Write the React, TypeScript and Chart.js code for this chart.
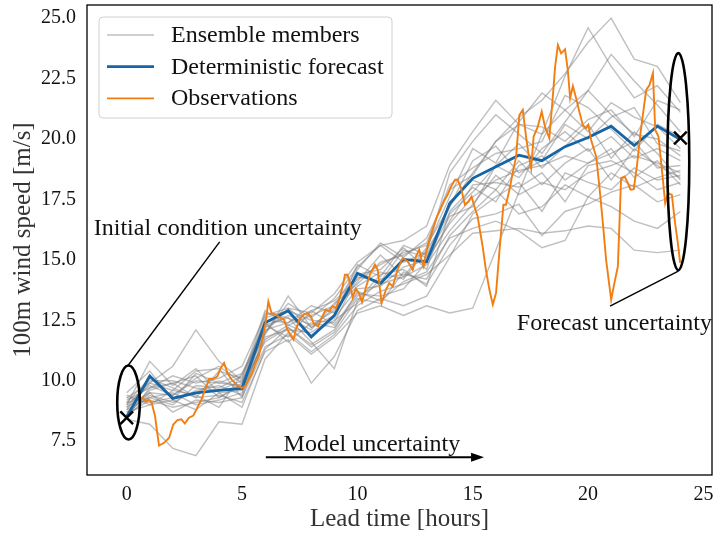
import React, { useEffect, useRef } from "react";
import { Chart, registerables } from "chart.js";

Chart.register(...registerables);

// ---------------- data ----------------
const hours = [0, 1, 2, 3, 4, 5, 6, 7, 8, 9, 10, 11, 12, 13, 14, 15, 16, 17, 18, 19, 20, 21, 22, 23, 24];

const deterministic = [8.5, 10.19, 9.27, 9.5, 9.6, 9.68, 12.4, 12.89, 11.81, 12.7, 14.44, 14.02, 15.02, 14.92, 17.33, 18.37, 18.85, 19.33, 19.1, 19.68, 20.06, 20.53, 19.73, 20.53, 19.98];

const ens01 = [8.9, 9.5, 9.4, 10.0, 9.9, 10.3, 12.1, 12.4, 12.9, 13.3, 14.2, 14.8, 15.3, 15.6, 17.2, 18.6, 19.9, 20.9, 21.6, 22.7, 24.0, 25.0, 23.3, 23.0, 21.5];
const ens02 = [9.1, 10.1, 9.7, 9.3, 10.4, 10.1, 12.9, 12.3, 12.7, 13.1, 14.6, 15.7, 15.1, 15.9, 17.9, 18.5, 19.9, 20.6, 20.2, 21.2, 22.0, 23.5, 22.4, 21.4, 20.3];
const ens03 = [8.6, 9.2, 8.9, 9.1, 9.3, 9.9, 11.6, 12.2, 11.5, 12.1, 13.7, 13.3, 14.1, 14.5, 15.9, 16.3, 16.6, 16.2, 15.5, 15.8, 17.6, 17.2, 16.6, 16.3, 17.0];
const ens04 = [9.3, 9.9, 10.6, 12.1, 10.8, 10.0, 11.9, 13.5, 12.2, 13.0, 13.9, 14.5, 14.2, 15.4, 16.9, 17.8, 18.9, 18.4, 19.6, 20.3, 19.5, 20.1, 19.2, 19.6, 19.1];
const ens05 = [8.4, 8.2, 7.2, 6.9, 8.3, 8.2, 10.9, 12.0, 11.2, 11.9, 13.1, 13.7, 14.0, 14.4, 15.2, 16.1, 16.2, 16.3, 16.1, 16.2, 16.4, 16.3, 15.4, 15.3, 15.4];
const ens06 = [8.7, 9.6, 9.9, 9.3, 9.4, 9.1, 11.2, 11.7, 9.9, 11.0, 12.9, 13.4, 13.1, 13.5, 15.1, 16.9, 17.6, 18.2, 17.0, 18.6, 18.2, 17.9, 18.8, 18.3, 18.5];
const ens07 = [9.0, 10.8, 9.8, 10.5, 9.5, 9.6, 12.6, 12.9, 12.5, 12.4, 14.3, 14.1, 15.4, 15.1, 16.8, 17.2, 18.9, 19.8, 18.8, 19.7, 20.6, 19.2, 20.3, 19.4, 18.3];
const ens08 = [8.5, 9.4, 9.1, 9.6, 9.8, 9.4, 12.3, 12.6, 11.6, 10.5, 13.3, 14.4, 14.6, 13.9, 17.0, 18.0, 17.4, 18.9, 19.3, 18.3, 19.0, 19.6, 18.4, 19.1, 18.1];
const ens09 = [9.2, 9.7, 10.2, 9.9, 10.1, 10.6, 12.7, 13.0, 12.8, 13.6, 14.9, 15.6, 15.8, 16.4, 18.9, 20.3, 21.6, 20.6, 20.5, 19.9, 20.8, 21.2, 20.1, 21.6, 21.2];
const ens10 = [8.8, 9.3, 9.5, 9.0, 9.2, 9.5, 11.8, 12.1, 12.0, 12.6, 13.8, 13.9, 14.7, 15.0, 16.5, 17.6, 18.3, 18.7, 18.9, 19.3, 19.0, 19.4, 19.9, 18.8, 18.9];
const ens11 = [9.5, 10.4, 9.2, 10.3, 9.9, 9.8, 12.2, 12.7, 12.3, 12.9, 14.1, 15.2, 14.3, 15.5, 17.6, 19.6, 19.0, 20.7, 21.9, 21.2, 20.3, 21.5, 20.9, 20.5, 19.6];
const ens12 = [8.7, 9.0, 9.6, 9.4, 8.9, 10.3, 12.4, 11.6, 12.4, 12.2, 13.5, 14.0, 14.3, 14.8, 16.2, 17.3, 18.5, 17.7, 18.2, 17.9, 18.6, 18.9, 19.3, 19.0, 18.6];
const ens13 = [9.0, 9.8, 9.4, 10.1, 10.6, 9.9, 12.0, 13.2, 12.6, 13.4, 14.7, 15.6, 14.9, 15.3, 18.6, 19.9, 21.0, 20.2, 19.4, 20.7, 22.0, 21.0, 20.2, 20.0, 19.3];
const ens14 = [8.6, 9.5, 8.7, 9.2, 9.1, 9.3, 11.4, 11.9, 11.1, 11.8, 12.8, 13.1, 12.7, 13.1, 12.8, 13.0, 15.4, 17.8, 20.2, 22.6, 24.6, 23.0, 21.7, 22.2, 21.1];
const ens15 = [8.9, 10.0, 10.0, 9.7, 9.6, 10.0, 12.5, 12.4, 13.1, 12.8, 14.4, 14.6, 15.5, 14.6, 17.4, 18.3, 17.9, 19.1, 18.1, 19.0, 19.6, 18.3, 19.6, 18.9, 18.4];
const ens16 = [9.3, 9.1, 9.3, 9.5, 10.0, 9.7, 11.7, 12.3, 11.9, 12.5, 13.2, 14.2, 14.4, 14.2, 16.0, 17.0, 17.9, 16.9, 17.2, 18.1, 17.6, 18.6, 18.0, 18.4, 18.7];
const ens17 = [8.5, 9.7, 9.9, 10.2, 9.3, 9.8, 12.8, 12.6, 12.1, 13.2, 14.0, 14.9, 15.2, 15.7, 18.1, 18.8, 19.4, 19.6, 19.9, 21.8, 21.3, 20.4, 19.5, 20.6, 20.1];
const ens18 = [9.1, 9.3, 9.0, 9.8, 9.7, 10.2, 12.3, 11.8, 12.9, 12.3, 13.6, 13.5, 13.8, 14.9, 16.6, 18.1, 18.2, 18.0, 18.6, 17.4, 18.9, 19.1, 18.6, 17.9, 18.2];
const ens19 = [8.8, 9.9, 9.6, 10.4, 10.5, 9.3, 12.0, 13.0, 12.2, 12.7, 14.8, 14.3, 15.6, 15.2, 17.2, 19.1, 19.7, 18.6, 19.1, 20.6, 20.0, 20.9, 21.3, 19.8, 19.5];
const ens20 = [9.4, 9.0, 9.2, 8.8, 9.5, 8.9, 11.3, 12.2, 11.4, 12.0, 13.4, 13.2, 14.5, 14.0, 15.6, 16.7, 16.9, 17.3, 16.0, 17.0, 17.3, 17.8, 18.1, 17.4, 17.7];

const ensembleMembers = [ens01, ens02, ens03, ens04, ens05, ens06, ens07, ens08, ens09, ens10, ens11, ens12, ens13, ens14, ens15, ens16, ens17, ens18, ens19, ens20];

const obsTimes = [0.67, 0.82, 0.95, 1.08, 1.23, 1.40, 1.62, 1.84, 2.02, 2.20, 2.37, 2.52, 2.70, 2.89, 3.09, 3.24, 3.43, 3.57, 3.76, 3.93, 4.08, 4.22, 4.37, 4.54, 4.69, 4.85, 5.0, 5.15, 5.29, 5.44, 5.58, 5.73, 5.88, 6.02, 6.14, 6.28, 6.46, 6.62, 6.82, 6.97, 7.09, 7.23, 7.33, 7.48, 7.67, 7.84, 7.98, 8.13, 8.30, 8.45, 8.63, 8.78, 8.92, 9.07, 9.21, 9.36, 9.46, 9.57, 9.69, 9.79, 9.93, 10.08, 10.2, 10.37, 10.55, 10.76, 10.88, 11.05, 11.24, 11.38, 11.53, 11.74, 11.96, 12.18, 12.40, 12.54, 12.68, 12.78, 12.87, 12.97, 13.12, 13.26, 13.45, 13.59, 13.74, 13.91, 14.06, 14.23, 14.35, 14.49, 14.66, 14.81, 14.95, 15.07, 15.21, 15.33, 15.43, 15.57, 15.72, 15.87, 16.01, 16.15, 16.33, 16.44, 16.59, 16.73, 16.88, 17.02, 17.17, 17.31, 17.41, 17.53, 17.64, 17.82, 17.99, 18.13, 18.32, 18.47, 18.57, 18.69, 18.83, 19.00, 19.12, 19.22, 19.34, 19.48, 19.62, 19.77, 19.91, 20.01, 20.13, 20.35, 20.49, 20.64, 20.78, 21.00, 21.14, 21.29, 21.43, 21.58, 21.69, 21.84, 21.98, 22.13, 22.27, 22.42, 22.52, 22.66, 22.81, 22.91, 23.05, 23.20, 23.34, 23.46, 23.63, 23.77, 23.89, 23.99];
const obsValues = [9.33, 9.15, 9.22, 9.10, 8.53, 7.32, 7.43, 7.64, 8.19, 8.37, 8.40, 8.23, 8.47, 8.56, 8.94, 9.22, 9.70, 10.08, 10.08, 10.18, 10.53, 10.74, 10.32, 10.05, 9.91, 9.75, 9.70, 9.80, 10.05, 10.32, 10.70, 11.01, 11.70, 12.39, 13.28, 12.80, 12.73, 12.62, 12.53, 12.11, 11.91, 11.70, 12.11, 12.53, 12.73, 12.80, 12.66, 12.32, 12.25, 12.60, 12.94, 12.87, 13.08, 13.00, 13.35, 13.90, 14.38, 14.38, 14.00, 13.45, 13.80, 13.60, 13.25, 13.87, 14.40, 14.80, 14.59, 13.21, 13.77, 14.04, 13.90, 14.59, 15.07, 14.93, 14.59, 15.14, 15.42, 15.00, 14.73, 15.28, 15.83, 16.24, 16.79, 17.07, 17.41, 17.69, 18.03, 18.31, 18.31, 17.97, 17.28, 17.41, 17.62, 17.21, 16.79, 16.11, 15.55, 14.59, 13.77, 13.15, 13.63, 15.28, 17.28, 17.28, 17.90, 18.59, 19.27, 20.99, 21.20, 20.10, 19.41, 18.79, 20.10, 20.51, 21.13, 20.51, 20.03, 21.75, 22.99, 23.88, 23.54, 23.71, 22.85, 21.68, 22.19, 21.68, 21.13, 20.58, 20.44, 20.58, 19.96, 19.27, 18.03, 16.52, 15.00, 13.35, 14.04, 14.73, 18.38, 18.45, 18.24, 17.90, 17.92, 19.00, 20.24, 21.34, 22.03, 22.23, 22.72, 20.37, 20.10, 18.72, 17.35, 17.76, 17.69, 16.52, 15.69, 14.87];

const markerTimes = [0, 24];
const markerValues = [8.47, 20.04];

const xTicks = [0, 5, 10, 15, 20, 25];
const yTicks = [7.5, 10, 12.5, 15, 17.5, 20, 22.5, 25];

const legendLabels = ["Ensemble members", "Deterministic forecast", "Observations"];

// annotation geometry (data coordinates)
const ellipseCenterX = [0.08, 23.91];
const ellipseCenterY = [9.1, 19.06];
const ellipseWidth = [0.98, 0.95];
const ellipseHeight = [3.06, 8.98];

// ---------------- styles ----------------
const FONT = "'Liberation Serif', 'DejaVu Serif', serif";
const ENS_COLOR = "rgba(128,128,128,0.5)";
const DET_COLOR = "#1665a6";
const OBS_COLOR = "#f27e12";
const TEXT_COLOR = "#111111";

const toXY = (xs: number[], ys: number[]) => xs.map((x, i) => ({ x, y: ys[i] }));

const zeroPadding = (s: any) => {
  s.paddingTop = 0;
  s.paddingBottom = 0;
  s.paddingLeft = 0;
  s.paddingRight = 0;
};

const annotationPlugin = {
  id: "annotations",
  afterDatasetsDraw(chart: any) {
    const { ctx, scales } = chart;
    const xs = scales.x;
    const ys = scales.y;
    const px = (v: number) => xs.getPixelForValue(v);
    const py = (v: number) => ys.getPixelForValue(v);
    ctx.save();

    // ellipses
    ctx.strokeStyle = "#000";
    ctx.lineWidth = 2.6;
    for (let i = 0; i < ellipseCenterX.length; i++) {
      const cx = px(ellipseCenterX[i]);
      const cy = py(ellipseCenterY[i]);
      const rx = Math.abs(px(ellipseCenterX[i] + ellipseWidth[i] / 2) - cx);
      const ry = Math.abs(py(ellipseCenterY[i] + ellipseHeight[i] / 2) - cy);
      ctx.beginPath();
      ctx.ellipse(cx, cy, rx, ry, 0, 0, Math.PI * 2);
      ctx.stroke();
    }

    // pointer lines
    ctx.lineWidth = 1.4;
    ctx.beginPath();
    ctx.moveTo(px(0.05), py(10.62));
    ctx.lineTo(px(4.03), py(15.74));
    ctx.stroke();
    ctx.beginPath();
    ctx.moveTo(px(20.95), py(13.08));
    ctx.lineTo(px(23.91), py(14.53));
    ctx.stroke();

    // arrow
    const ax0 = px(6.03);
    const ax1 = px(15.49);
    const ay = py(6.83);
    ctx.lineWidth = 2;
    ctx.beginPath();
    ctx.moveTo(ax0, ay);
    ctx.lineTo(ax1 - 10, ay);
    ctx.stroke();
    ctx.fillStyle = "#000";
    ctx.beginPath();
    ctx.moveTo(ax1, ay);
    ctx.lineTo(ax1 - 13, ay - 4.5);
    ctx.lineTo(ax1 - 13, ay + 4.5);
    ctx.closePath();
    ctx.fill();

    // texts
    ctx.fillStyle = TEXT_COLOR;
    ctx.font = `24px ${FONT}`;
    ctx.textAlign = "center";
    ctx.textBaseline = "alphabetic";
    ctx.fillText("Initial condition uncertainty", px(4.38), py(16.04));
    ctx.fillText("Forecast uncertainty", px(21.14), py(12.08));
    ctx.fillText("Model uncertainty", px(10.63), py(7.09));

    ctx.restore();
  },
  afterDraw(chart: any) {
    const { ctx, chartArea } = chart;
    ctx.save();
    // frame
    ctx.strokeStyle = "#000";
    ctx.lineWidth = 1.3;
    ctx.strokeRect(chartArea.left, chartArea.top, chartArea.right - chartArea.left, chartArea.bottom - chartArea.top);

    // legend
    const lx = chartArea.left + 12;
    const ly = chartArea.top + 12;
    const lw = 293;
    const lh = 101;
    ctx.beginPath();
    ctx.roundRect(lx, ly, lw, lh, 4);
    ctx.fillStyle = "rgba(255,255,255,0.8)";
    ctx.fill();
    ctx.strokeStyle = "#d0d0d0";
    ctx.lineWidth = 1;
    ctx.stroke();

    const colors = [ENS_COLOR, DET_COLOR, OBS_COLOR];
    const widths = [1.4, 2.8, 1.9];
    ctx.font = `24px ${FONT}`;
    ctx.textAlign = "left";
    ctx.textBaseline = "alphabetic";
    for (let i = 0; i < legendLabels.length; i++) {
      const rowY = ly + 18 + i * 31.7;
      ctx.strokeStyle = colors[i];
      ctx.lineWidth = widths[i];
      ctx.beginPath();
      ctx.moveTo(lx + 8, rowY);
      ctx.lineTo(lx + 55, rowY);
      ctx.stroke();
      ctx.fillStyle = TEXT_COLOR;
      ctx.fillText(legendLabels[i], lx + 72, rowY + 7);
    }
    ctx.restore();
  },
};

export default function App() {
  const canvasRef = useRef<HTMLCanvasElement>(null);

  useEffect(() => {
    if (!canvasRef.current) return;

    const ensembleDatasets = ensembleMembers.map((m, i) => ({
      label: i === 0 ? legendLabels[0] : `member ${i + 1}`,
      data: toXY(hours, m),
      borderColor: ENS_COLOR,
      backgroundColor: ENS_COLOR,
      borderWidth: 1.4,
      pointRadius: 0,
      tension: 0,
      fill: false,
      order: 4,
    }));

    const chart = new Chart(canvasRef.current, {
      type: "line",
      data: {
        datasets: [
          ...ensembleDatasets,
          {
            label: legendLabels[1],
            data: toXY(hours, deterministic),
            borderColor: DET_COLOR,
            backgroundColor: DET_COLOR,
            borderWidth: 2.8,
            pointRadius: 0,
            fill: false,
            order: 3,
          },
          {
            label: legendLabels[2],
            data: toXY(obsTimes, obsValues),
            borderColor: OBS_COLOR,
            backgroundColor: OBS_COLOR,
            borderWidth: 1.9,
            pointRadius: 0,
            fill: false,
            order: 2,
          },
          {
            type: "scatter",
            label: "markers",
            data: toXY(markerTimes, markerValues),
            pointStyle: "crossRot",
            pointRadius: 9,
            borderWidth: 2.4,
            borderColor: "#000",
            backgroundColor: "#000",
            showLine: false,
            order: 1,
          } as any,
        ],
      },
      options: {
        responsive: false,
        animation: false,
        devicePixelRatio: 1,
        layout: { autoPadding: false, padding: { left: 0, right: 1, top: 5, bottom: 0 } },
        plugins: {
          legend: { display: false },
          tooltip: { enabled: false },
        },
        scales: {
          x: {
            type: "linear",
            min: -1.72,
            max: 25.37,
            grid: { display: false, drawTicks: false },
            border: { display: false },
            afterBuildTicks: (s: any) => {
              s.ticks = xTicks.map((v) => ({ value: v }));
            },
            afterFit: (s: any) => {
              s.height = 64;
              zeroPadding(s);
            },
            ticks: {
              padding: 8,
              color: TEXT_COLOR,
              font: { family: FONT, size: 20 },
              callback: (v: any) => String(v),
              maxRotation: 0,
              autoSkip: false,
            },
            title: {
              display: true,
              text: "Lead time [hours]",
              color: "#333",
              font: { family: FONT, size: 25 },
              padding: { top: 0, bottom: 5 },
            },
          },
          y: {
            type: "linear",
            min: 6.1,
            max: 25.54,
            grid: { display: false, drawTicks: false },
            border: { display: false },
            afterBuildTicks: (s: any) => {
              s.ticks = yTicks.map((v) => ({ value: v }));
            },
            afterFit: (s: any) => {
              s.width = 87;
              zeroPadding(s);
            },
            ticks: {
              padding: 11,
              color: TEXT_COLOR,
              font: { family: FONT, size: 20 },
              callback: (v: any) => Number(v).toFixed(1),
              autoSkip: false,
            },
            title: {
              display: true,
              text: "100m wind speed [m/s]",
              color: "#333",
              font: { family: FONT, size: 25 },
              padding: { top: 8, bottom: 0 },
            },
          },
        },
      },
      plugins: [annotationPlugin],
    } as any);

    return () => chart.destroy();
  }, []);

  return (
    <div style={{ position: "fixed", left: 0, top: 0, width: 713, height: 539, background: "#fff" }}>
      <canvas ref={canvasRef} width={713} height={539} style={{ display: "block", width: 713, height: 539 }} />
    </div>
  );
}
